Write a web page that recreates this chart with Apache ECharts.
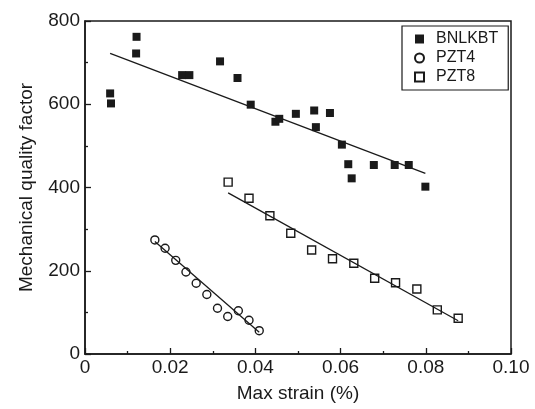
<!DOCTYPE html>
<html><head><meta charset="utf-8">
<script src="https://cdn.jsdelivr.net/npm/echarts@6/dist/echarts.min.js"></script>
<style>html,body{margin:0;padding:0;background:#fff}#c{width:535px;height:409px}</style>
</head><body><div id="c"></div>
<script>
// BNLKBT (filled squares)
const bnlkbtX = [0.0059, 0.0061, 0.0120, 0.0121, 0.0228, 0.0245, 0.0317, 0.0358, 0.0389, 0.0447, 0.0456, 0.0495, 0.0538, 0.0542, 0.0575, 0.0603, 0.0618, 0.0626, 0.0678, 0.0727, 0.0760, 0.0799];
const bnlkbtY = [626, 602, 722, 762, 670, 670, 703, 663, 599, 558, 565, 577, 585, 545, 579, 503, 456, 422, 454, 454, 454, 402];
// PZT4 (open circles)
const pzt4X = [0.0164, 0.0188, 0.0213, 0.0237, 0.0261, 0.0286, 0.0311, 0.0335, 0.0360, 0.0385, 0.0409];
const pzt4Y = [274, 254, 225, 197, 170, 143, 110, 90, 104, 81, 56];
// PZT8 (open squares)
const pzt8X = [0.0336, 0.0385, 0.0434, 0.0483, 0.0532, 0.0581, 0.0631, 0.0680, 0.0729, 0.0779, 0.0827, 0.0876];
const pzt8Y = [413, 374, 332, 290, 250, 229, 218, 182, 171, 156, 106, 86];
// fitted lines (endpoints)
const bnlkbtFitX = [0.0059, 0.0799];
const bnlkbtFitY = [722, 434];
const pzt4FitX = [0.0164, 0.0409];
const pzt4FitY = [270, 52];
const pzt8FitX = [0.0336, 0.0876];
const pzt8FitY = [387, 80];

const xTicks = [0, 0.02, 0.04, 0.06, 0.08, 0.10];
const yTicks = [0, 200, 400, 600, 800];

const zip = (xs, ys) => xs.map((x, i) => [x, ys[i]]);
const FONT = 'Liberation Sans';
const ink = '#1a1a1a';

const fitLine = (xs, ys) => ({
  type: 'line', data: zip(xs, ys), symbol: 'none', silent: true,
  lineStyle: {color: ink, width: 1.3}, z: 1, legendHoverLink: false
});

const chart = echarts.init(document.getElementById('c'), null, {renderer: 'canvas'});
chart.setOption({
  animation: false,
  backgroundColor: '#fff',
  grid: {left: 85, right: 24, top: 21, bottom: 55, show: true, borderColor: ink, borderWidth: 1.5, containLabel: false},
  legend: {
    orient: 'vertical', left: 402, top: 26,
    data: ['BNLKBT', 'PZT4', 'PZT8'],
    itemWidth: 9, itemHeight: 9, itemGap: 3,
    padding: [5, 10, 5, 12],
    borderColor: ink, borderWidth: 1.2, backgroundColor: '#fff',
    textStyle: {fontFamily: FONT, fontSize: 16, color: ink, lineHeight: 16, padding: [0, 0, 0, 7]}
  },
  xAxis: {
    type: 'value', min: 0, max: 0.10, interval: 0.02,
    name: 'Max strain (%)', nameLocation: 'middle', nameGap: 30,
    nameTextStyle: {fontFamily: FONT, fontSize: 19, color: ink},
    axisLine: {show: true, lineStyle: {color: ink, width: 1.5}},
    axisTick: {show: true, inside: true, length: 6, lineStyle: {color: ink, width: 1.3}},
    minorTick: {show: true, splitNumber: 2, length: 3, lineStyle: {color: ink, width: 1.3}},
    splitLine: {show: false},
    axisLabel: {fontFamily: FONT, fontSize: 19, color: ink, margin: 4,
      formatter: v => { const t = xTicks.find(k => Math.abs(k - v) < 1e-9); return t === 0 ? '0' : t.toFixed(2); }}
  },
  yAxis: {
    type: 'value', min: 0, max: 800, interval: 200,
    name: 'Mechanical quality factor', nameLocation: 'middle', nameGap: 49,
    nameTextStyle: {fontFamily: FONT, fontSize: 19, color: ink},
    axisLine: {show: true, lineStyle: {color: ink, width: 1.5}},
    axisTick: {show: true, inside: true, length: 6, lineStyle: {color: ink, width: 1.3}},
    minorTick: {show: true, splitNumber: 2, length: 3, lineStyle: {color: ink, width: 1.3}},
    splitLine: {show: false},
    axisLabel: {fontFamily: FONT, fontSize: 19, color: ink, margin: 5,
      formatter: v => String(yTicks.find(k => k === v))}
  },
  series: [
    {name: 'BNLKBT', type: 'scatter', data: zip(bnlkbtX, bnlkbtY), symbol: 'rect', symbolSize: 8,
      itemStyle: {color: ink, opacity: 1}, z: 3},
    {name: 'PZT4', type: 'scatter', data: zip(pzt4X, pzt4Y), symbol: 'circle', symbolSize: 8,
      itemStyle: {color: 'rgba(255,255,255,0)', borderColor: ink, borderWidth: 1.4, opacity: 1}, z: 3},
    {name: 'PZT8', type: 'scatter', data: zip(pzt8X, pzt8Y), symbol: 'rect', symbolSize: 8,
      itemStyle: {color: 'rgba(255,255,255,0)', borderColor: ink, borderWidth: 1.4, opacity: 1}, z: 3},
    fitLine(bnlkbtFitX, bnlkbtFitY),
    fitLine(pzt4FitX, pzt4FitY),
    fitLine(pzt8FitX, pzt8FitY)
  ]
});
</script>
</body></html>
